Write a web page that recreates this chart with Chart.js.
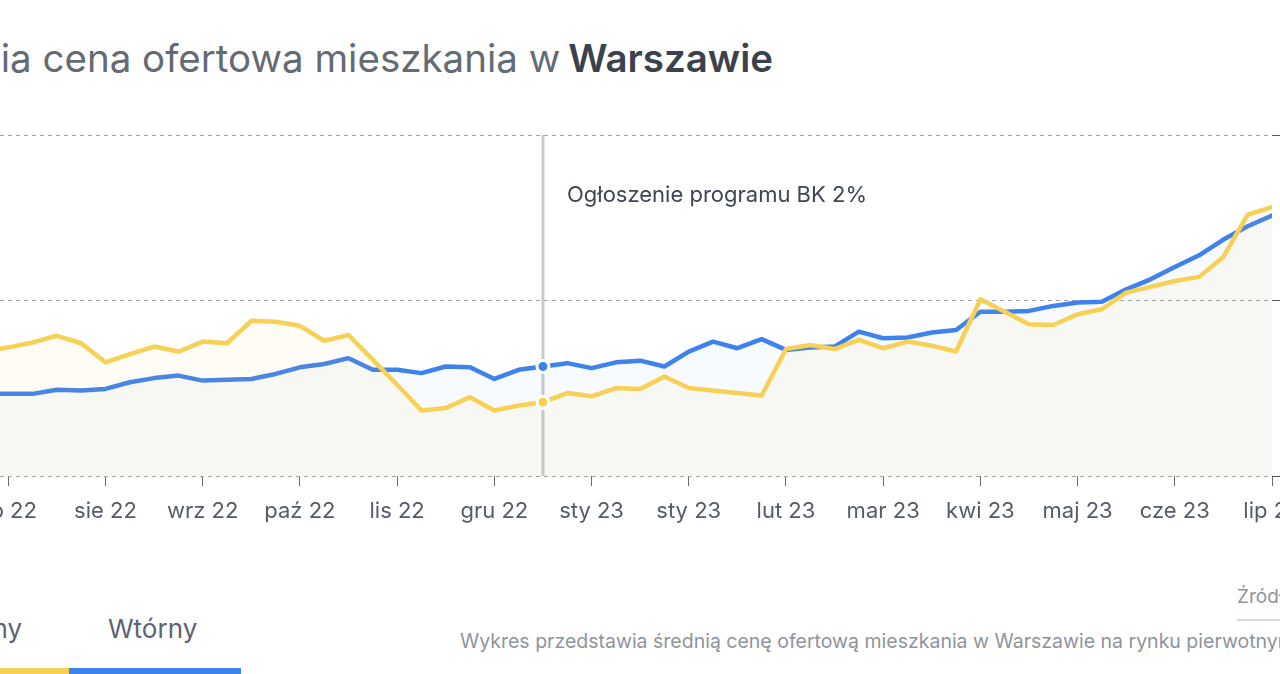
<!DOCTYPE html>
<html>
<head>
<meta charset="utf-8">
<script src="https://cdn.jsdelivr.net/npm/chart.js@4"></script>
<style>
  html, body { margin: 0; padding: 0; background: #fff; }
  body { width: 1280px; height: 674px; overflow: hidden; position: relative; font-family: Inter, "Noto Sans", sans-serif; }
  #title { position: absolute; right: 507px; top: 39px; font-size: 38.5px; line-height: 39px; color: #646b75; white-space: nowrap; }
  #title b { color: #3b424c; font-weight: 600; margin-left: 8px; }
  #chartBox { position: absolute; left: -56px; top: 125px; width: 1388px; height: 411px; }
  #note { position: absolute; left: 567px; top: 182px; font-size: 22px; line-height: 24px; color: #3f4652; white-space: nowrap; }
  .tab { position: absolute; font-size: 26px; line-height: 30px; color: #5d6470; white-space: nowrap; }
  #tab1 { right: 1258px; top: 614px; }
  #tab2 { left: 108px; top: 614px; }
  #bar1 { position: absolute; left: 0; width: 69px; top: 668px; height: 6px; background: #f7d155; }
  #bar2 { position: absolute; left: 69px; width: 172px; top: 668px; height: 6px; background: #3e82ec; }
  #src { position: absolute; left: 1237px; top: 585px; font-size: 19px; line-height: 24px; color: #8f949b; white-space: nowrap; }
  #srcLine { position: absolute; left: 1237px; width: 60px; top: 619px; height: 2px; background: #d9dbde; }
  #desc { position: absolute; left: 460px; top: 629px; font-size: 19.5px; line-height: 24px; color: #8f949b; white-space: nowrap; }
</style>
</head>
<body>
<div id="title">Średnia cena ofertowa mieszkania w<b>Warszawie</b></div>
<div id="chartBox"><canvas id="c" width="1388" height="411"></canvas></div>
<div id="note">Ogłoszenie programu BK 2%</div>
<div class="tab" id="tab1">Pierwotny</div>
<div class="tab" id="tab2">Wtórny</div>
<div id="bar1"></div>
<div id="bar2"></div>
<div id="src">Źródło: dane ofertowe</div>
<div id="srcLine"></div>
<div id="desc">Wykres przedstawia średnią cenę ofertową mieszkania w Warszawie na rynku pierwotnym i wtórnym.</div>
<script>
// Week numbers (weekly observations), first one precedes the "lip 22" tick
const weeks = [-1,0,1,2,3,4,5,6,7,8,9,10,11,12,13,14,15,16,17,18,19,20,21,22,23,24,25,26,27,28,29,30,31,32,33,34,35,36,37,38,39,40,41,42,43,44,45,46,47,48,49,50,51,52];

// Rynek pierwotny (yellow)
const pierwotny = [15700,15720,15750,15790,15745,15630,15680,15725,15695,15755,15745,15880,15875,15850,15760,15795,15645,15495,15340,15355,15420,15340,15370,15390,15445,15425,15475,15470,15545,15475,15460,15445,15430,15710,15735,15710,15765,15715,15755,15730,15695,16010,15935,15860,15855,15920,15950,16050,16085,16120,16145,16265,16520,16565];

// Rynek wtórny (blue)
const wtorny = [15440,15440,15440,15465,15460,15470,15510,15535,15550,15520,15525,15530,15560,15600,15620,15655,15585,15585,15565,15605,15600,15530,15585,15605,15625,15595,15630,15640,15605,15695,15755,15715,15770,15705,15720,15725,15815,15775,15780,15810,15825,15935,15935,15940,15970,15990,15995,16070,16130,16205,16275,16370,16450,16515];

// X axis ticks (every 4 weeks) and their labels
const xTickWeeks = [0,4,8,12,16,20,24,28,32,36,40,44,48,52];
const xTickLabels = ['lip 22','sie 22','wrz 22','paź 22','lis 22','gru 22','sty 23','sty 23','lut 23','mar 23','kwi 23','maj 23','cze 23','lip 23'];

// Y axis
const yMin = 14945;
const yMax = 17000;
const yTickValues = [14945, 16000, 17000];

// Announcement of the BK 2% programme
const markerWeek = 22;

const YELLOW = '#f7d155';
const BLUE = '#3e82ec';

const markerLine = {
  id: 'markerLine',
  beforeDatasetsDraw(chart) {
    const { ctx, chartArea, scales } = chart;
    const x = scales.x.getPixelForValue(markerWeek);
    ctx.save();
    ctx.strokeStyle = '#cacaca';
    ctx.lineWidth = 3;
    ctx.beginPath();
    ctx.moveTo(x, chartArea.top);
    ctx.lineTo(x, chartArea.bottom);
    ctx.stroke();
    ctx.restore();
  }
};

const pts = (arr) => arr.map((v, i) => ({ x: weeks[i], y: v }));
const radius = (c) => (c.raw && c.raw.x === markerWeek) ? 6 : 0;

new Chart(document.getElementById('c'), {
  type: 'line',
  data: {
    datasets: [
      {
        label: 'Pierwotny',
        data: pts(pierwotny),
        borderColor: YELLOW,
        backgroundColor: 'rgba(247,209,85,0.06)',
        fill: 'start',
        borderWidth: 4.5,
        tension: 0,
        pointRadius: radius,
        pointBackgroundColor: YELLOW,
        pointBorderColor: '#ffffff',
        pointBorderWidth: 3,
        borderJoinStyle: 'round',
        borderCapStyle: 'round'
      },
      {
        label: 'Wtórny',
        data: pts(wtorny),
        borderColor: BLUE,
        backgroundColor: 'rgba(62,130,236,0.04)',
        fill: 'start',
        borderWidth: 4.5,
        tension: 0,
        pointRadius: radius,
        pointBackgroundColor: BLUE,
        pointBorderColor: '#ffffff',
        pointBorderWidth: 3,
        borderJoinStyle: 'round',
        borderCapStyle: 'round'
      }
    ]
  },
  options: {
    responsive: false,
    animation: false,
    devicePixelRatio: 1,
    layout: { padding: { left: 40, top: 10, right: 0, bottom: 0 } },
    plugins: { legend: { display: false }, tooltip: { enabled: false } },
    events: [],
    scales: {
      x: {
        type: 'linear',
        min: weeks[0],
        max: weeks[weeks.length - 1],
        afterBuildTicks: (s) => { s.ticks = xTickWeeks.map(v => ({ value: v })); },
        afterFit: (s) => { s.height = 60; },
        ticks: {
          autoSkip: false,
          maxRotation: 0,
          padding: 12,
          color: '#555c66',
          font: { family: 'Inter', size: 22 },
          callback: (v) => xTickLabels[xTickWeeks.indexOf(v)]
        },
        grid: { drawOnChartArea: false, drawTicks: true, tickLength: 10, tickColor: '#6b6b6b', tickWidth: 1 },
        border: { display: false }
      },
      y: {
        type: 'linear',
        position: 'right',
        min: yMin,
        max: yMax,
        afterBuildTicks: (s) => { s.ticks = yTickValues.map(v => ({ value: v })); },
        afterFit: (s) => { s.width = 60; },
        ticks: { display: false },
        grid: { color: '#a3a3a3', lineWidth: 1, drawTicks: true, tickLength: 10, tickColor: '#555555', tickBorderDash: [] },
        border: { display: false, dash: [4, 4] }
      }
    }
  },
  plugins: [markerLine]
});
</script>
</body>
</html>
